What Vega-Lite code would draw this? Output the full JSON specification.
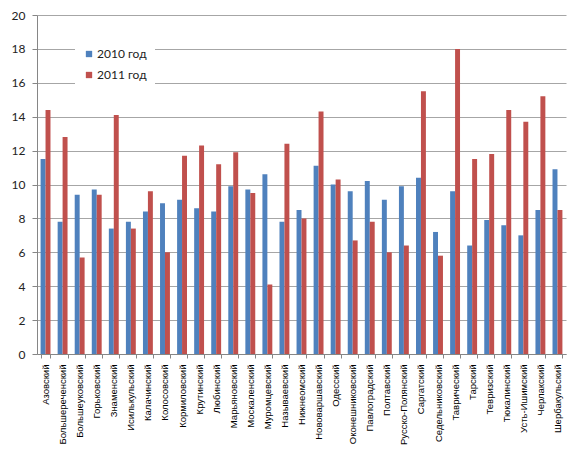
{
  "$schema": "https://vega.github.io/schema/vega-lite/v6.json",
  "width": 529,
  "height": 339,
  "autosize": {"type": "none"},
  "padding": {"left": 37, "top": 15, "right": 16, "bottom": 102},
  "background": "white",
  "data": {
    "values": [
      {"район": "Азовский", "год": "2010 год", "значение": 11.5},
      {"район": "Азовский", "год": "2011 год", "значение": 14.4},
      {"район": "Большереченский", "год": "2010 год", "значение": 7.8},
      {"район": "Большереченский", "год": "2011 год", "значение": 12.8},
      {"район": "Большеуковский", "год": "2010 год", "значение": 9.4},
      {"район": "Большеуковский", "год": "2011 год", "значение": 5.7},
      {"район": "Горьковский", "год": "2010 год", "значение": 9.7},
      {"район": "Горьковский", "год": "2011 год", "значение": 9.4},
      {"район": "Знаменский", "год": "2010 год", "значение": 7.4},
      {"район": "Знаменский", "год": "2011 год", "значение": 14.1},
      {"район": "Исилькульский", "год": "2010 год", "значение": 7.8},
      {"район": "Исилькульский", "год": "2011 год", "значение": 7.4},
      {"район": "Калачинский", "год": "2010 год", "значение": 8.4},
      {"район": "Калачинский", "год": "2011 год", "значение": 9.6},
      {"район": "Колосовский", "год": "2010 год", "значение": 8.9},
      {"район": "Колосовский", "год": "2011 год", "значение": 6.0},
      {"район": "Кормиловский", "год": "2010 год", "значение": 9.1},
      {"район": "Кормиловский", "год": "2011 год", "значение": 11.7},
      {"район": "Крутинский", "год": "2010 год", "значение": 8.6},
      {"район": "Крутинский", "год": "2011 год", "значение": 12.3},
      {"район": "Любинский", "год": "2010 год", "значение": 8.4},
      {"район": "Любинский", "год": "2011 год", "значение": 11.2},
      {"район": "Марьяновский", "год": "2010 год", "значение": 9.9},
      {"район": "Марьяновский", "год": "2011 год", "значение": 11.9},
      {"район": "Москаленский", "год": "2010 год", "значение": 9.7},
      {"район": "Москаленский", "год": "2011 год", "значение": 9.5},
      {"район": "Муромцевский", "год": "2010 год", "значение": 10.6},
      {"район": "Муромцевский", "год": "2011 год", "значение": 4.1},
      {"район": "Называевский", "год": "2010 год", "значение": 7.8},
      {"район": "Называевский", "год": "2011 год", "значение": 12.4},
      {"район": "Нижнеомский", "год": "2010 год", "значение": 8.5},
      {"район": "Нижнеомский", "год": "2011 год", "значение": 8.0},
      {"район": "Нововаршавский", "год": "2010 год", "значение": 11.1},
      {"район": "Нововаршавский", "год": "2011 год", "значение": 14.3},
      {"район": "Одесский", "год": "2010 год", "значение": 10.0},
      {"район": "Одесский", "год": "2011 год", "значение": 10.3},
      {"район": "Оконешниковский", "год": "2010 год", "значение": 9.6},
      {"район": "Оконешниковский", "год": "2011 год", "значение": 6.7},
      {"район": "Павлоградский", "год": "2010 год", "значение": 10.2},
      {"район": "Павлоградский", "год": "2011 год", "значение": 7.8},
      {"район": "Полтавский", "год": "2010 год", "значение": 9.1},
      {"район": "Полтавский", "год": "2011 год", "значение": 6.0},
      {"район": "Русско-Полянский", "год": "2010 год", "значение": 9.9},
      {"район": "Русско-Полянский", "год": "2011 год", "значение": 6.4},
      {"район": "Саргатский", "год": "2010 год", "значение": 10.4},
      {"район": "Саргатский", "год": "2011 год", "значение": 15.5},
      {"район": "Седельниковский", "год": "2010 год", "значение": 7.2},
      {"район": "Седельниковский", "год": "2011 год", "значение": 5.8},
      {"район": "Таврический", "год": "2010 год", "значение": 9.6},
      {"район": "Таврический", "год": "2011 год", "значение": 18.0},
      {"район": "Тарский", "год": "2010 год", "значение": 6.4},
      {"район": "Тарский", "год": "2011 год", "значение": 11.5},
      {"район": "Тевризский", "год": "2010 год", "значение": 7.9},
      {"район": "Тевризский", "год": "2011 год", "значение": 11.8},
      {"район": "Тюкалинский", "год": "2010 год", "значение": 7.6},
      {"район": "Тюкалинский", "год": "2011 год", "значение": 14.4},
      {"район": "Усть-Ишимский", "год": "2010 год", "значение": 7.0},
      {"район": "Усть-Ишимский", "год": "2011 год", "значение": 13.7},
      {"район": "Черлакский", "год": "2010 год", "значение": 8.5},
      {"район": "Черлакский", "год": "2011 год", "значение": 15.2},
      {"район": "Шербакульский", "год": "2010 год", "значение": 10.9},
      {"район": "Шербакульский", "год": "2011 год", "значение": 8.5}
    ]
  },
  "mark": {"type": "bar"},
  "encoding": {
    "x": {
      "field": "район",
      "type": "nominal",
      "sort": null,
      "scale": {"paddingInner": 0.42, "paddingOuter": 0.21},
      "axis": {
        "title": null,
        "labelAngle": -90,
        "labelFont": "Liberation Sans",
        "labelFontSize": 9.5,
        "labelColor": "#000",
        "labelPadding": 6,
        "tickBand": "extent",
        "tickSize": 4,
        "tickColor": "#868686",
        "domainColor": "#868686",
        "grid": false
      }
    },
    "xOffset": {
      "field": "год",
      "type": "nominal",
      "scale": {"paddingInner": 0, "paddingOuter": 0}
    },
    "y": {
      "field": "значение",
      "type": "quantitative",
      "scale": {"domain": [0, 20], "nice": false},
      "axis": {
        "title": null,
        "values": [0, 2, 4, 6, 8, 10, 12, 14, 16, 18, 20],
        "labelFont": "Lato",
        "labelFontSize": 12,
        "labelColor": "#222",
        "labelPadding": 7,
        "tickSize": 5,
        "tickColor": "#868686",
        "domainColor": "#868686",
        "gridColor": "#a6a6a6",
        "gridOpacity": 1
      }
    },
    "color": {
      "field": "год",
      "type": "nominal",
      "scale": {"range": ["#4F81BD", "#C0504D"]},
      "legend": {
        "title": null,
        "orient": "none",
        "legendX": 38,
        "legendY": 25,
        "fillColor": "white",
        "padding": 8,
        "rowPadding": 9,
        "symbolType": "square",
        "symbolSize": 40,
        "symbolStrokeWidth": 0,
        "labelFont": "Lato",
        "labelFontSize": 12,
        "labelColor": "#222",
        "labelOffset": 2
      }
    }
  },
  "config": {"view": {"stroke": null}}
}
